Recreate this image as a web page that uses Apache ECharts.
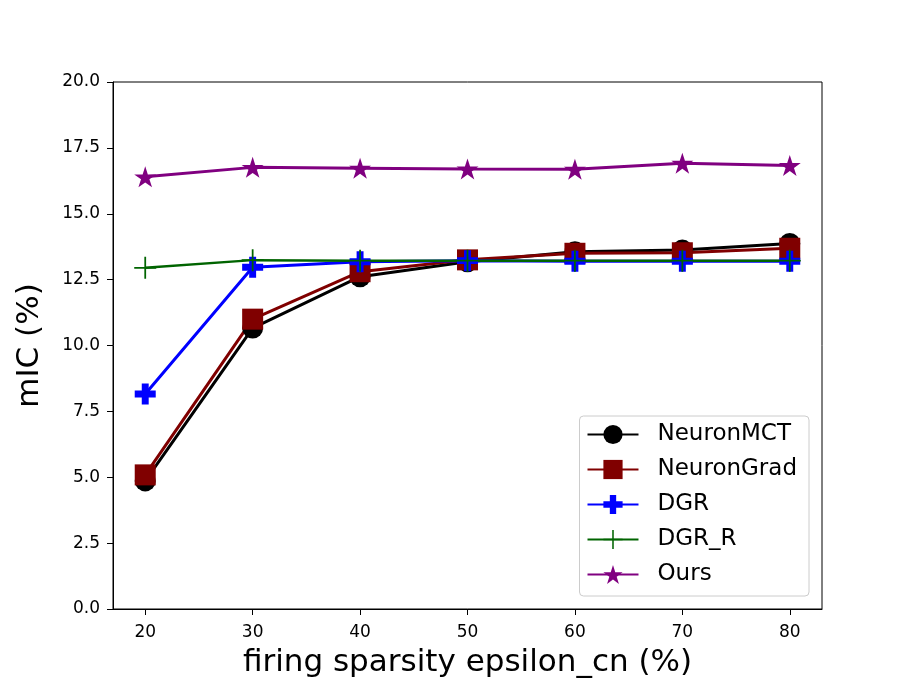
<!DOCTYPE html>
<html>
<head>
	<meta charset="utf-8">
	<title>mIC vs firing sparsity</title>
	<style type="text/css">
		body{
			margin: 0px;
			background: #fff;
		}
		.chart{
			width: 913px;
			height: 685px;
		}
	</style>
	<script type="text/javascript" src="https://cdn.jsdelivr.net/npm/echarts@6/dist/echarts.min.js"></script>
</head>
<body>
	<div id="chart" class="chart"></div>
	<script type="text/javascript">
		var sparsity = [20, 30, 40, 50, 60, 70, 80];
		var yTicks = [0, 2.5, 5, 7.5, 10, 12.5, 15, 17.5, 20];
		var neuronMCT = [4.86, 10.66, 12.61, 13.18, 13.56, 13.62, 13.87];
		var neuronGrad = [5.09, 11.0, 12.8, 13.25, 13.5, 13.52, 13.69];
		var dgr = [8.16, 12.97, 13.18, 13.22, 13.2, 13.2, 13.2];
		var dgrR = [12.95, 13.24, 13.22, 13.22, 13.22, 13.22, 13.22];
		var ours = [16.4, 16.76, 16.73, 16.7, 16.69, 16.92, 16.83];

		var font = 'DejaVu Sans';
		var starPath = 'path://M0,-1L0.2245,-0.309L0.951,-0.309L0.363,0.118L0.588,0.809L0,0.382L-0.588,0.809L-0.363,0.118L-0.951,-0.309L-0.2245,-0.309Z';
		var fatPlus = 'path://M-0.33,-1H0.33V-0.33H1V0.33H0.33V1H-0.33V0.33H-1V-0.33H-0.33Z';
		var thinPlus = 'path://M-0.08,-1H0.08V-0.08H1V0.08H0.08V1H-0.08V0.08H-1V-0.08H-0.08Z';

		function pairs(vals){
			return sparsity.map(function(x, i){
				return [x, vals[i]];
			});
		}

		function line(name, vals, color, symbol, size, width){
			return {
				name: name,
				type: 'line',
				data: pairs(vals),
				symbol: symbol,
				symbolSize: size,
				showAllSymbol: true,
				lineStyle: { color: color, width: width },
				itemStyle: { color: color, borderWidth: 0 },
				emphasis: { disabled: true },
				animation: false
			};
		}

		var chart = echarts.init(document.getElementById('chart'));
		chart.setOption({
			backgroundColor: '#fff',
			textStyle: { fontFamily: font },
			grid: {
				left: 113,
				right: 91,
				top: 82,
				bottom: 76,
				show: true,
				borderColor: '#000',
				borderWidth: 1
			},
			legend: {
				orient: 'vertical',
				right: 104,
				bottom: 89,
				itemWidth: 51,
				itemHeight: 24,
				itemGap: 12,
				padding: [7, 12, 10, 7],
				borderColor: '#ccc',
				borderWidth: 1,
				borderRadius: 4,
				backgroundColor: 'rgba(255,255,255,0.8)',
				textStyle: { fontSize: 23, color: '#000', fontFamily: font, padding: [0, 0, 0, 14] },
				data: ['NeuronMCT', 'NeuronGrad', 'DGR', 'DGR_R', 'Ours']
			},
			xAxis: {
				type: 'value',
				min: 17,
				max: 83,
				name: 'firing sparsity epsilon_cn (%)',
				nameLocation: 'middle',
				nameGap: 38,
				nameTextStyle: { fontSize: 31, color: '#000', fontFamily: font },
				axisLine: { show: true, lineStyle: { color: '#000' } },
				axisTick: { show: true, length: 6, lineStyle: { color: '#000' }, customValues: sparsity },
				axisLabel: { fontSize: 17, color: '#000', margin: 15, customValues: sparsity },
				splitLine: { show: false }
			},
			yAxis: {
				type: 'value',
				min: 0,
				max: 20,
				interval: 2.5,
				name: 'mIC (%)',
				nameLocation: 'middle',
				nameGap: 68,
				nameTextStyle: { fontSize: 31, color: '#000', fontFamily: font },
				axisLine: { show: true, lineStyle: { color: '#000' } },
				axisTick: { show: true, length: 6, lineStyle: { color: '#000' }, customValues: yTicks },
				axisLabel: {
					fontSize: 17,
					color: '#000',
					margin: 13,
					customValues: yTicks,
					formatter: function(v){ return v.toFixed(1); }
				},
				splitLine: { show: false }
			},
			series: [
				line('NeuronMCT', neuronMCT, '#000000', 'circle', 21, 3),
				line('NeuronGrad', neuronGrad, '#800000', 'rect', 21, 3),
				line('DGR', dgr, '#0000ff', fatPlus, 21, 3),
				line('DGR_R', dgrR, '#006400', thinPlus, 22, 2.5),
				line('Ours', ours, '#800080', starPath, [22, 21], 3)
			]
		});
	</script>
</body>
</html>
